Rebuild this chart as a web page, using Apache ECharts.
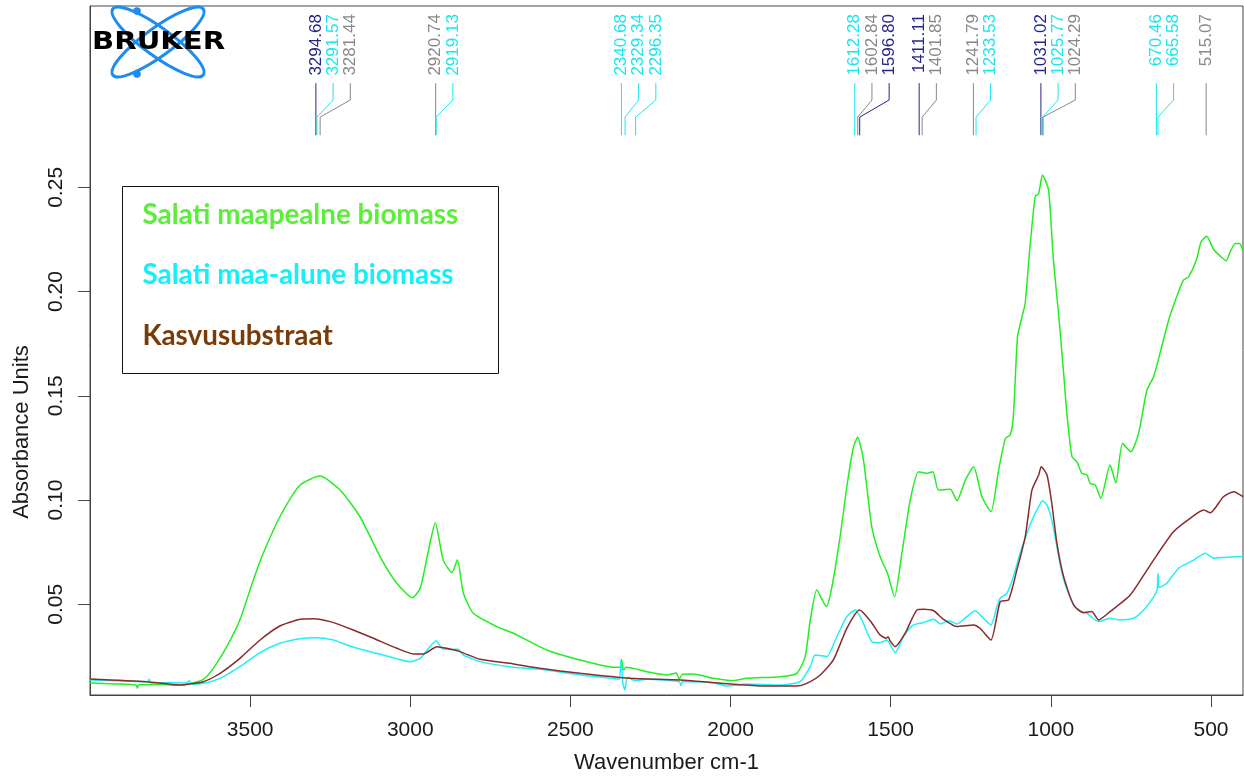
<!DOCTYPE html>
<html><head><meta charset="utf-8">
<script src="https://cdn.jsdelivr.net/npm/echarts@6/dist/echarts.min.js"></script>
<style>html,body{margin:0;padding:0;background:#fff}#c{width:1244px;height:776px}</style>
</head><body><div id="c"></div>
<script>
// ---- data: [wavenumber cm-1, absorbance] ----
const legendNames = ['Salati maapealne biomass', 'Salati maa-alune biomass', 'Kasvusubstraat'];
const xTicks = [3500, 3000, 2500, 2000, 1500, 1000, 500];
const yTicks = [0.05, 0.10, 0.15, 0.20, 0.25];

const aboveGround = [
 [4000,0.0123],[3920,0.0118],[3856,0.0112],[3852,0.0098],[3848,0.0114],[3780,0.0115],[3720,0.0112],
 [3677,0.0124],[3646,0.0140],[3615,0.0193],[3573,0.0297],[3532,0.0425],[3490,0.0617],[3459,0.0745],
 [3407,0.0920],[3344,0.1072],[3282,0.1115],[3219,0.1048],[3157,0.0920],[3094,0.0728],[3042,0.0601],
 [2993,0.0532],[2969,0.0577],[2943,0.0760],[2922,0.0891],[2897,0.0712],[2870,0.0652],[2853,0.0712],
 [2834,0.0553],[2803,0.0457],[2730,0.0393],[2678,0.0361],[2574,0.0281],[2470,0.0233],[2366,0.0198],
 [2345,0.0200],[2340,0.0235],[2335,0.0185],[2325,0.0198],[2261,0.0177],[2199,0.0161],[2170,0.0170],
 [2160,0.0142],[2150,0.0165],[2116,0.0166],[2053,0.0145],[1991,0.0134],[1949,0.0145],[1845,0.0153],
 [1793,0.0169],[1767,0.0249],[1751,0.0425],[1731,0.0569],[1701,0.0489],[1684,0.0580],[1658,0.0824],
 [1637,0.1064],[1616,0.1256],[1603,0.1301],[1585,0.1192],[1559,0.0872],[1533,0.0728],[1510,0.0649],
 [1488,0.0536],[1465,0.0745],[1439,0.1000],[1413,0.1136],[1387,0.1128],[1368,0.1136],[1351,0.1048],
 [1314,0.1052],[1293,0.0997],[1267,0.1096],[1241,0.1160],[1215,0.1016],[1187,0.0944],[1163,0.1144],
 [1142,0.1296],[1127,0.1312],[1117,0.1400],[1104,0.1784],[1090,0.1879],[1080,0.1944],[1067,0.2183],
 [1049,0.2455],[1038,0.2471],[1026,0.2559],[1007,0.2487],[992,0.2151],[976,0.1896],[960,0.1608],
 [950,0.1416],[934,0.1208],[919,0.1184],[903,0.1128],[887,0.1120],[877,0.1080],[861,0.1072],
 [844,0.1008],[815,0.1168],[797,0.1083],[776,0.1272],[750,0.1232],[726,0.1320],[700,0.1528],
 [679,0.1592],[658,0.1711],[632,0.1864],[611,0.1959],[586,0.2055],[570,0.2071],[544,0.2159],
 [531,0.2239],[513,0.2266],[492,0.2203],[469,0.2167],[453,0.2148],[440,0.2191],[424,0.2231],
 [411,0.2231],[400,0.2195]
];
const belowGround = [
 [4000,0.0137],[3900,0.0132],[3820,0.0128],[3815,0.0140],[3810,0.0123],[3750,0.0125],[3700,0.0122],
 [3690,0.0133],[3680,0.0117],[3646,0.0121],[3594,0.0145],[3532,0.0201],[3469,0.0268],[3407,0.0313],
 [3344,0.0335],[3297,0.0340],[3240,0.0329],[3198,0.0305],[3136,0.0277],[3073,0.0252],[3001,0.0225],
 [2969,0.0241],[2943,0.0289],[2919,0.0325],[2902,0.0289],[2870,0.0283],[2852,0.0285],[2834,0.0257],
 [2782,0.0225],[2678,0.0198],[2595,0.0188],[2470,0.0161],[2366,0.0145],[2348,0.0140],[2342,0.0233],
 [2336,0.0120],[2330,0.0089],[2322,0.0150],[2300,0.0135],[2261,0.0140],[2160,0.0129],[2155,0.0110],
 [2150,0.0130],[2053,0.0124],[2012,0.0108],[1949,0.0118],[1845,0.0113],[1783,0.0129],[1751,0.0201],
 [1736,0.0257],[1699,0.0249],[1673,0.0329],[1637,0.0441],[1611,0.0473],[1590,0.0425],[1559,0.0321],
 [1533,0.0316],[1512,0.0329],[1486,0.0268],[1460,0.0345],[1429,0.0401],[1398,0.0412],[1366,0.0428],
 [1345,0.0406],[1319,0.0421],[1293,0.0406],[1262,0.0441],[1236,0.0469],[1210,0.0433],[1187,0.0401],
 [1168,0.0489],[1158,0.0529],[1137,0.0553],[1117,0.0632],[1096,0.0745],[1075,0.0840],[1054,0.0920],
 [1035,0.0976],[1027,0.0997],[1012,0.0976],[997,0.0904],[981,0.0776],[965,0.0649],[945,0.0553],
 [919,0.0476],[887,0.0457],[851,0.0417],[815,0.0433],[784,0.0425],[742,0.0433],[710,0.0473],
 [679,0.0536],[668,0.0570],[665,0.0649],[662,0.0580],[638,0.0601],[601,0.0673],[554,0.0712],
 [518,0.0745],[492,0.0721],[450,0.0726],[400,0.0729]
];
const substrate = [
 [4000,0.0142],[3823,0.0129],[3719,0.0113],[3646,0.0129],[3594,0.0169],[3532,0.0241],[3469,0.0329],
 [3407,0.0396],[3344,0.0428],[3303,0.0431],[3250,0.0417],[3178,0.0377],[3115,0.0337],[3042,0.0289],
 [2990,0.0262],[2959,0.0262],[2917,0.0297],[2886,0.0289],[2845,0.0273],[2782,0.0236],[2678,0.0214],
 [2595,0.0193],[2470,0.0169],[2314,0.0145],[2157,0.0137],[2001,0.0118],[1897,0.0108],[1793,0.0108],
 [1762,0.0121],[1720,0.0161],[1679,0.0233],[1637,0.0385],[1597,0.0473],[1564,0.0421],[1533,0.0353],
 [1514,0.0337],[1508,0.0345],[1502,0.0325],[1486,0.0297],[1455,0.0361],[1418,0.0473],[1398,0.0476],
 [1366,0.0469],[1335,0.0428],[1293,0.0393],[1241,0.0401],[1221,0.0385],[1187,0.0329],[1158,0.0513],
 [1132,0.0521],[1106,0.0665],[1080,0.0824],[1059,0.1048],[1038,0.1120],[1030,0.1160],[1012,0.1120],
 [997,0.0984],[981,0.0792],[960,0.0632],[929,0.0497],[898,0.0460],[872,0.0465],[851,0.0425],
 [815,0.0465],[752,0.0545],[710,0.0640],[669,0.0736],[617,0.0848],[565,0.0912],[523,0.0952],
 [502,0.0939],[461,0.1016],[429,0.1040],[400,0.1016]
];
// peak picks: wavenumber and which spectrum (0 above-ground, 1 below-ground, 2 substrate)
const peakWn  = [3294.68,3291.57,3281.44,2920.74,2919.13,2340.68,2329.34,2296.35,1612.28,1602.84,1596.80,
                 1411.11,1401.85,1241.79,1233.53,1031.02,1025.77,1024.29,670.46,665.58,515.07];
const peakSrc = [2,1,0,0,1,1,1,1,1,0,2,2,0,0,1,2,1,0,1,1,0];

// ---- styling ----
const curveColors = ['#22ee22', '#1ff0f8', '#8b2a2a'];
const legendColors = ['#5bef3a', '#13f0f8', '#793b08'];
const peakColors = ['#888888', '#19e6f0', '#26268a'];
const AX = '#444';
const FONT = '"Liberation Sans", Arial, Helvetica, sans-serif';

const ctx = document.createElement('canvas').getContext('2d');
ctx.font = 'bold 100px Lato';
const legendSize = 100 * 316 / ctx.measureText(legendNames[0]).width;

const chart = echarts.init(document.getElementById('c'), null, {renderer: 'canvas'});

function peakRender(params, api) {
  const i = params.dataIndex;
  const ax = peakWn.map(w => api.coord([w, 0.30])[0]);
  const lx = [];
  for (let j = 0; j < ax.length; j++) {
    lx[j] = j === 0 ? ax[j] : Math.max(ax[j], lx[j - 1] + 17.2);
  }
  const yT = api.coord([1000, 0.3331])[1];
  const y1 = api.coord([1000, 0.3000])[1];
  const y2 = api.coord([1000, 0.2919])[1];
  const y3 = api.coord([1000, 0.2837])[1];
  const y4 = api.coord([1000, 0.2750])[1];
  const col = peakColors[peakSrc[i]];
  return {
    type: 'group',
    children: [
      {type: 'polyline', shape: {points: [[lx[i], y1], [lx[i], y2], [ax[i], y3], [ax[i], y4]]},
       style: {stroke: col, lineWidth: 1, fill: null}},
      {type: 'text', x: lx[i], y: yT, rotation: Math.PI / 2,
       style: {text: peakWn[i].toFixed(2), fill: col, font: '17px ' + FONT, align: 'right', verticalAlign: 'middle'}}
    ]
  };
}

const lineSeries = [aboveGround, belowGround, substrate].map((d, k) => ({
  type: 'line', name: legendNames[k], data: d, showSymbol: false, smooth: 0.2,
  lineStyle: {color: curveColors[k], width: 1.5}, itemStyle: {color: curveColors[k]},
  z: 2 + k, silent: true
}));

chart.setOption({
  animation: false,
  backgroundColor: '#fff',
  grid: {left: 90, right: 1, top: 6, bottom: 81, show: true, borderColor: AX, borderWidth: 1,
         containLabel: false, outerBoundsMode: 'none'},
  xAxis: {
    type: 'value', min: 400, max: 4000, inverse: true,
    axisLine: {show: true, lineStyle: {color: AX, width: 1}},
    axisTick: {show: true, length: 12, customValues: xTicks, lineStyle: {color: AX, width: 1}},
    axisLabel: {customValues: xTicks, fontSize: 21, fontFamily: FONT, color: '#1a1a1a', margin: 25,
                formatter: v => String(v)},
    splitLine: {show: false},
    name: 'Wavenumber cm-1', nameLocation: 'middle', nameGap: 57,
    nameTextStyle: {fontSize: 22, fontFamily: FONT, color: '#1a1a1a'}
  },
  yAxis: {
    type: 'value', min: 0.0065, max: 0.337,
    axisLine: {show: true, lineStyle: {color: AX, width: 1}},
    axisTick: {show: true, length: 12, customValues: yTicks, lineStyle: {color: AX, width: 1}},
    axisLabel: {customValues: yTicks, rotate: 90, fontSize: 21, fontFamily: FONT, color: '#1a1a1a', margin: 23,
                formatter: v => v.toFixed(2)},
    splitLine: {show: false}
  },
  graphic: [
    {type: 'text', x: 22, y: 432, rotation: Math.PI / 2, z: 10,
     style: {text: 'Absorbance Units', font: '22px ' + FONT, fill: '#1a1a1a', align: 'center', verticalAlign: 'middle'}},
    {type: 'rect', shape: {x: 122.5, y: 186.5, width: 376, height: 187}, z: 10,
     style: {fill: '#fff', stroke: '#111', lineWidth: 1}},
    ...legendNames.map((t, k) => ({
      type: 'text', x: 142.5, y: 215 + k * 60.5, z: 11,
      style: {text: t, font: 'bold ' + legendSize.toFixed(1) + 'px Lato, "Open Sans", sans-serif',
              fill: legendColors[k], align: 'left', verticalAlign: 'middle'}
    })),
    {type: 'group', z: 10, children: [
      {type: 'ellipse', x: 158, y: 42, rotation: -0.63, shape: {cx: 0, cy: 0, rx: 56, ry: 14},
       style: {fill: null, stroke: '#1e8cf0', lineWidth: 3}},
      {type: 'ellipse', x: 158, y: 42, rotation: 0.63, shape: {cx: 0, cy: 0, rx: 56, ry: 14},
       style: {fill: null, stroke: '#1e8cf0', lineWidth: 3}},
      {type: 'circle', shape: {cx: 137, cy: 11, r: 3.8}, style: {fill: '#1e8cf0'}},
      {type: 'circle', shape: {cx: 137, cy: 74, r: 3.8}, style: {fill: '#1e8cf0'}},
      {type: 'text', x: 92, y: 42.5, scaleX: 1.18,
       style: {text: 'BRUKER', font: 'bold 24.7px "DejaVu Sans"', fill: '#000', align: 'left', verticalAlign: 'middle'}}
    ]}
  ],
  series: [
    ...lineSeries,
    {type: 'custom', name: 'peaks', data: peakWn.map(w => [w, 0.30]), encode: {x: 0, y: 1},
     renderItem: peakRender, clip: false, z: 8, silent: true}
  ]
});
</script></body></html>
